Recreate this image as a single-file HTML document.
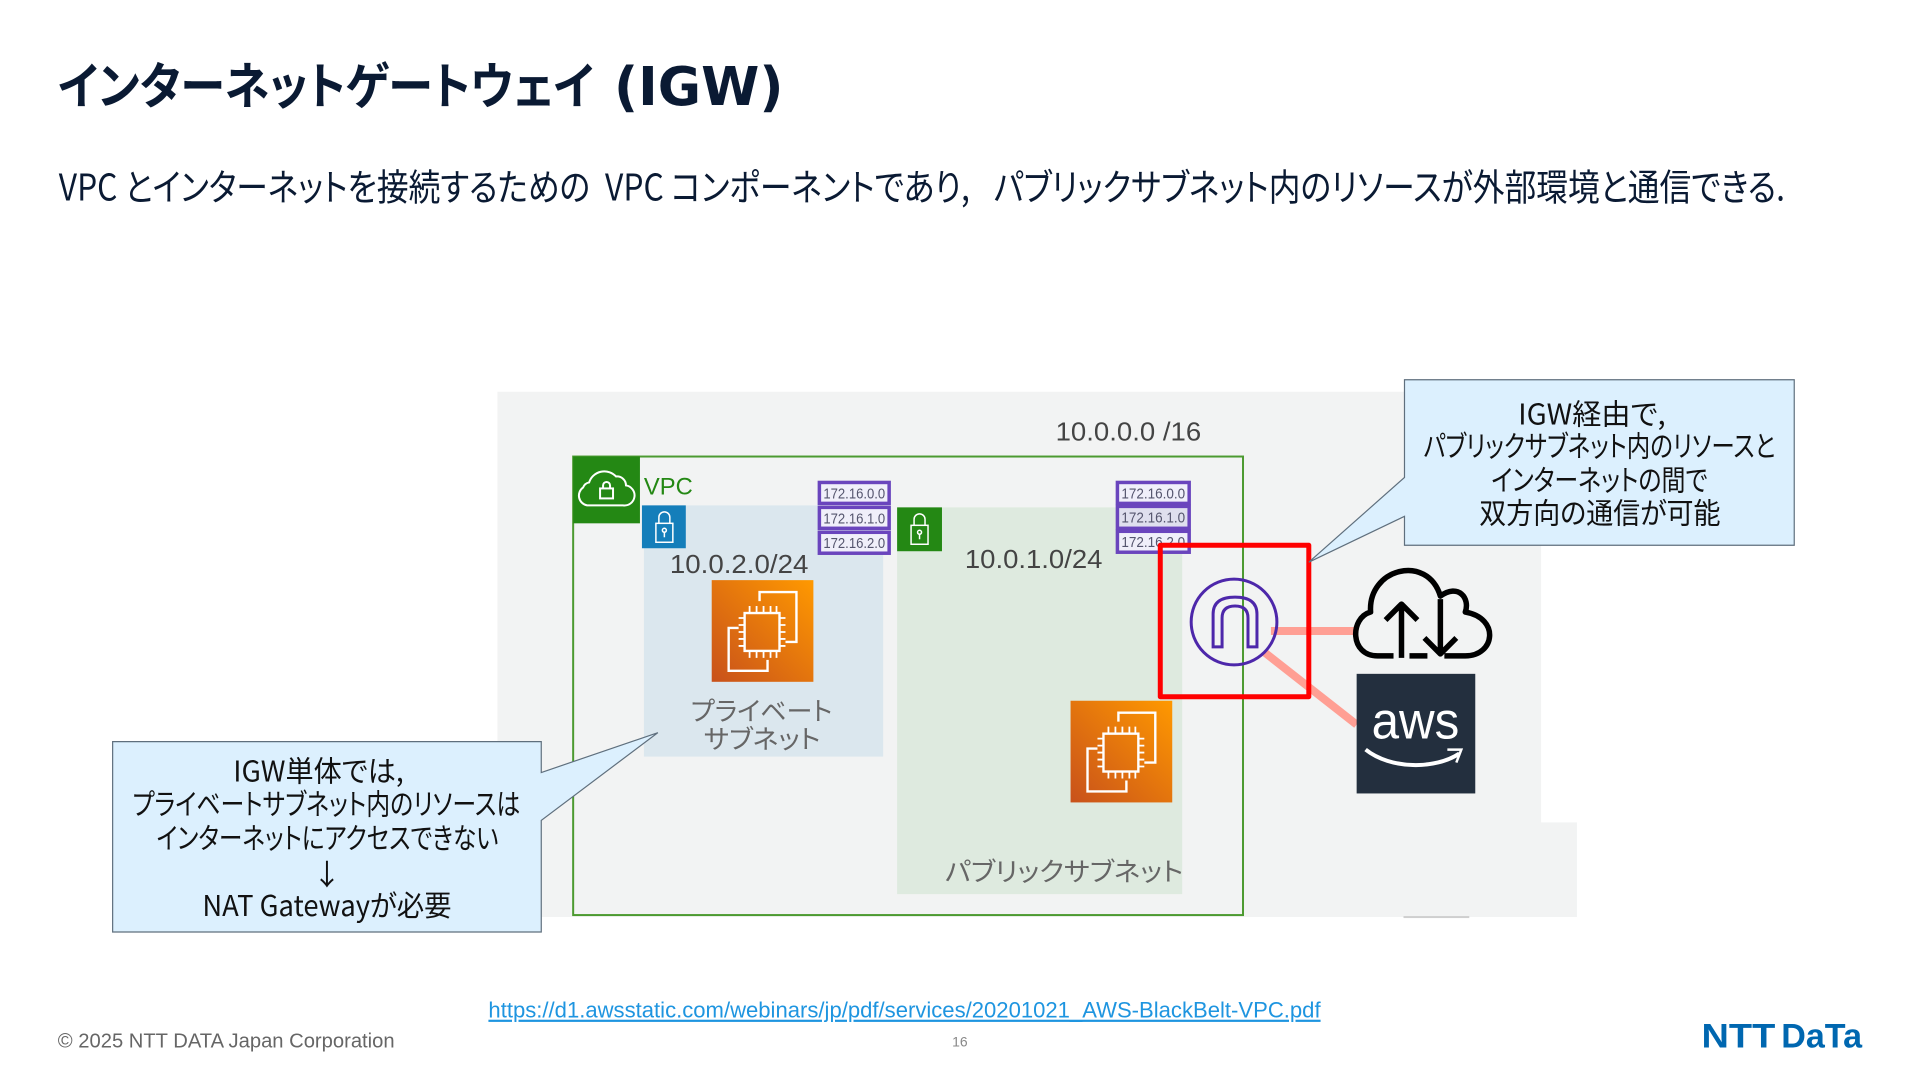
<!DOCTYPE html>
<html lang="ja"><head><meta charset="utf-8"><title>IGW</title>
<style>
html,body{margin:0;padding:0;background:#fff;width:1920px;height:1080px;overflow:hidden}
svg{display:block}
text{font-family:"Liberation Sans","Noto Sans CJK JP",sans-serif}
.jp{font-family:"Noto Sans CJK JP","Liberation Sans",sans-serif;font-weight:400;font-feature-settings:"palt"}
.c{text-anchor:middle}
.ip{font-size:15px;fill:#55556e}
</style></head><body>
<svg width="1920" height="1080" viewBox="0 0 1920 1080" xmlns="http://www.w3.org/2000/svg">
<defs>
<linearGradient id="g" x1="0" y1="1" x2="1" y2="0"><stop offset="0" stop-color="#c8511b"/><stop offset="1" stop-color="#ff9900"/></linearGradient>
<g id="ec2" fill="none" stroke="#fff" stroke-width="2.4">
<rect width="102" height="102" fill="url(#g)" stroke="none"/>
<rect x="33" y="33" width="35" height="38"/>
<path d="M48 21V12H85V62H74M56 80V91H17V48H27"/>
<path d="M38 33V26M45 33V26M52 33V26M59 33V26M65 33V26M38 71V78M45 71V78M52 71V78M59 71V78M65 71V78M33 38H27M33 45H27M33 52H27M33 59H27M33 66H27M68 38H74M68 45H74M68 52H74M68 59H74M68 66H74" stroke-width="1.8"/>
</g>
<g id="lock" fill="none" stroke="#fff" stroke-width="1.5">
<rect x="14" y="18" width="17" height="19"/><path d="M17 18V12a5.5 5.5 0 0 1 11 0V18"/><circle cx="22.5" cy="25" r="2"/><path d="M22.5 27V32"/>
</g>
</defs>
<g transform="scale(0.9968)">

<text x="58" y="104.500" font-size="50" font-weight="700" fill="#0a1a33" style="font-family:'Noto Sans CJK JP',sans-serif;font-feature-settings:'palt'" w="538">インターネットゲートウェイ</text>
<text x="616" y="105.500" font-size="54" font-weight="700" fill="#0a1a33" style="font-family:'DejaVu Sans',sans-serif" w="170">(IGW)</text>
<g fill="#0a1a33" font-size="37">
<text class="jp" x="59" y="201" w="533">VPC とインターネットを接続するための</text>
<text class="jp" x="607" y="201" w="366">VPC コンポーネントであり,</text>
<text class="jp" x="997" y="201" w="794">パブリックサブネット内のリソースが外部環境と通信できる.</text>
</g>

<polygon points="499,393 1546,393 1546,825 1582,825 1582,920 499,920" fill="#f2f3f3"/>
<rect x="1408" y="919" width="66" height="2" fill="#cfcfcf"/>

<rect x="646" y="507" width="240" height="252" fill="#dbe7ee"/>
<rect x="900" y="509" width="286" height="388" fill="#deeadf"/>
<rect x="575" y="458" width="672" height="460" fill="none" stroke="#4c9a30" stroke-width="2"/>
<rect x="575" y="458" width="67" height="67" fill="#248814"/>
<g fill="none" stroke="#fff" stroke-width="2"><path d="M589 507a10 10 0 0 1-4-18 8 8 0 0 1 6-5 16 16 0 0 1 27-6 9 9 0 0 1 10 9 10 10 0 0 1-3 20z"/><rect x="602" y="490" width="13" height="10"/><path d="M605 490v-3a3.500 3.500 0 0 1 7 0v3"/></g>
<text x="646" y="496" font-size="24" fill="#248814" w="49">VPC</text>
<g transform="translate(644,507)"><rect width="44" height="43" fill="#147eba"/><use href="#lock"/></g>
<g transform="translate(900,509)"><rect width="45" height="44" fill="#248814"/><use href="#lock"/></g>

<text x="672" y="575" font-size="26" fill="#444" w="139">10.0.2.0/24</text>
<text x="968" y="570" font-size="26" fill="#444" w="138">10.0.1.0/24</text>
<text x="1059" y="442" font-size="26" fill="#444" w="146">10.0.0.0 /16</text>

<use href="#ec2" x="714" y="582"/>
<use href="#ec2" x="1074" y="703"/>

<text class="jp" x="693" y="723" font-size="26" fill="#666" w="142">プライベート</text>
<text class="jp" x="706" y="751" font-size="26" fill="#666" w="117">サブネット</text>
<text class="jp" x="948" y="884" font-size="26" fill="#666" w="239">パブリックサブネット</text>

<g fill="#f0effa" stroke="#6a45bd" stroke-width="3.500">
<rect x="822" y="484" width="70" height="21"/><rect x="822" y="509" width="70" height="21"/><rect x="822" y="534" width="70" height="21"/>
<rect x="1121" y="484" width="72" height="21"/><rect x="1121" y="508" width="72" height="22" fill="#dfdfee"/><rect x="1121" y="533" width="72" height="21"/>
</g>
<text class="ip" x="826" y="500" w="62">172.16.0.0</text><text class="ip" x="826" y="525" w="62">172.16.1.0</text><text class="ip" x="826" y="550" w="62">172.16.2.0</text>
<text class="ip" x="1125" y="500" w="64">172.16.0.0</text><text class="ip" x="1125" y="524" w="64">172.16.1.0</text><text class="ip" x="1125" y="549" w="64">172.16.2.0</text>

<path d="M1275 633H1361M1268 654L1361 727" stroke="#ff9f94" stroke-width="8" fill="none"/>
<rect x="1164" y="547" width="149" height="152" fill="none" stroke="#f00" stroke-width="5" stroke-linejoin="round"/>
<circle cx="1238" cy="624" r="43" fill="none" stroke="#4d27aa" stroke-width="3"/>
<path d="M1217 649V616Q1217 599 1239 599Q1261 599 1261 616V649H1252V620Q1252 608 1239 608Q1226 608 1226 620V649Z" fill="none" stroke="#4d27aa" stroke-width="3"/>

<g fill="none" stroke="#000" stroke-width="5.500" stroke-linejoin="round">
<path d="M1398 658H1382C1354 658 1354 620 1375 614C1372 570 1432 555 1445 598C1463 585 1475 600 1470 614C1505 620 1500 658 1470 658H1449M1414 658H1432"/>
<path d="M1406 660V606M1390 622L1406 606L1422 622M1445 601V656M1429 640L1445 656L1461 640"/>
</g>

<rect x="1361" y="676" width="119" height="120" fill="#232f3e"/>
<text x="1376" y="741" font-size="52" fill="#fff" w="88">aws</text>
<path d="M1370 752C1395 772 1440 772 1464 756" fill="none" stroke="#fff" stroke-width="4"/>
<path d="M1452 752L1466 752L1461 765" fill="none" stroke="#fff" stroke-width="2.500"/>

<path d="M1409 381H1800V547H1409V518L1313 564L1409 479Z" fill="#dcf0fe" stroke="#5f6f7d" stroke-width="1.200"/>
<g font-size="29" fill="#111">
<text class="jp" x="1523" y="426" w="148">IGW経由で,</text>
<text class="jp" x="1428" y="458" w="353">パブリックサブネット内のリソースと</text>
<text class="jp" x="1496" y="492" w="217">インターネットの間で</text>
<text class="jp" x="1484" y="525" w="242">双方向の通信が可能</text>
</g>

<path d="M113 744H543V775L660 735L543 823V935H113Z" fill="#dcf0fe" stroke="#5f6f7d" stroke-width="1.200"/>
<g font-size="29" fill="#111">
<text class="jp" x="234" y="784" w="171">IGW単体では,</text>
<text class="jp" x="133" y="817" w="389">プライベートサブネット内のリソースは</text>
<text class="jp" x="157" y="851" w="343">インターネットにアクセスできない</text>
<text class="jp c" x="328" y="888">↓</text>
<text class="jp" x="203" y="919" w="250">NAT Gatewayが必要</text>
</g>

<text x="490" y="1021" font-size="22" fill="#1e95e0" text-decoration="underline" w="834">https://d1.awsstatic.com/webinars/jp/pdf/services/20201021_AWS-BlackBelt-VPC.pdf</text>
<text x="58" y="1051" font-size="20" fill="#666" w="338">© 2025 NTT DATA Japan Corporation</text>
<text x="963" y="1050" font-size="14" fill="#888" class="c">16</text>
<text x="1707" y="1051" font-size="34" font-weight="700" fill="#0067b0" w="74">NTT</text>
<text x="1787" y="1051" font-size="34" font-weight="700" fill="#0067b0" w="81">DaTa</text>
</g>
</svg>
<script>
document.querySelectorAll('text[w]').forEach(function(t){
  var n=t.getComputedTextLength(),x=+t.getAttribute('x'),y=+t.getAttribute('y'),w=+t.getAttribute('w');
  t.setAttribute('transform','translate('+x+' '+y+') scale('+(w/n)+' 1) translate('+(-x)+' '+(-y)+')');
});
</script>
</body></html>
